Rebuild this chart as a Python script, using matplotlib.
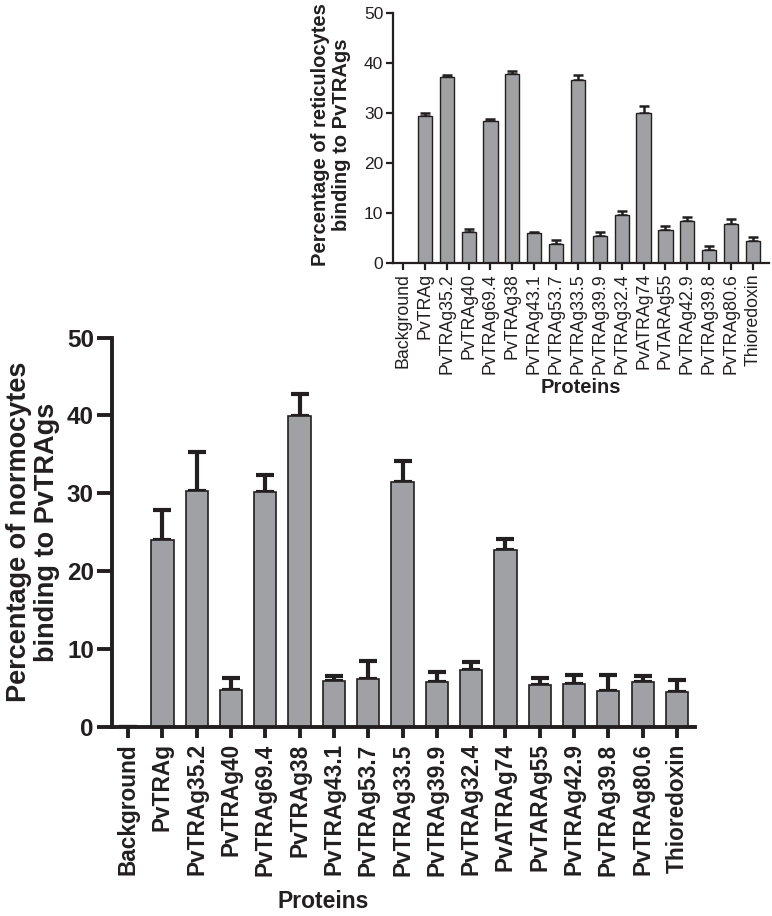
import numpy as np
from matplotlib import pyplot as plt

plt.rcParams['font.family'] = ['Liberation Sans', 'DejaVu Sans']

proteins = ["Background", "PvTRAg", "PvTRAg35.2", "PvTRAg40", "PvTRAg69.4", "PvTRAg38",
            "PvTRAg43.1", "PvTRAg53.7", "PvTRAg33.5", "PvTRAg39.9", "PvTRAg32.4",
            "PvATRAg74", "PvTARAg55", "PvTRAg42.9", "PvTRAg39.8", "PvTRAg80.6", "Thioredoxin"]

# normocytes (main panel)
norm_mean = [0, 24.0, 30.3, 4.7, 30.1, 39.9, 5.9, 6.1, 31.4, 5.8, 7.3, 22.7, 5.3, 5.5, 4.6, 5.7, 4.4]
norm_err = [0, 3.8, 5.0, 1.6, 2.3, 2.8, 0.6, 2.4, 2.8, 1.2, 1.0, 1.4, 1.0, 1.2, 2.0, 0.8, 1.6]

# reticulocytes (inset)
ret_mean = [0, 29.3, 37.1, 6.2, 28.3, 37.8, 6.0, 3.9, 36.6, 5.4, 9.7, 29.9, 6.7, 8.5, 2.7, 7.8, 4.5]
ret_err = [0, 0.6, 0.5, 0.7, 0.5, 0.6, 0.3, 0.8, 1.0, 0.9, 0.8, 1.4, 0.7, 0.7, 0.8, 1.0, 0.8]

dark = "#231f20"
bar_col = "#a0a1a5"

fig = plt.figure(figsize=(7.72, 9.16), dpi=100)
x = np.arange(len(proteins))

# main panel
ax = fig.add_axes([0.145, 0.2067, 0.755, 0.4247])
ax.bar(x, norm_mean, width=0.65, color=bar_col, edgecolor=dark, linewidth=1.2, zorder=2)
ax.errorbar(x, norm_mean, yerr=[np.zeros(len(x)), norm_err], fmt='none', ecolor=dark,
            elinewidth=3, capsize=6.5, capthick=3, zorder=1)
ax.set_xlim(-0.47, 16.52)
ax.set_ylim(0, 50)
ax.set_yticks([0, 10, 20, 30, 40, 50])
ax.set_xticks(x)
ax.set_xticklabels(proteins, rotation=90, fontsize=16.3, fontweight='bold', color=dark)
for lab in ax.get_yticklabels():
    lab.set_fontsize(17.5)
    lab.set_fontweight('bold')
    lab.set_color(dark)
for s in ['top', 'right']:
    ax.spines[s].set_visible(False)
for s in ['left', 'bottom']:
    ax.spines[s].set_linewidth(2.8)
    ax.spines[s].set_color(dark)
ax.tick_params(axis='y', length=11, width=2.8, color=dark, pad=2)
ax.tick_params(axis='x', length=8, width=2.8, color=dark, pad=4)
fig.text(323 / 772, 1 - 902 / 916, "Proteins", fontsize=16.5, fontweight='bold', color=dark,
         ha='center', va='center')
fig.text(33 / 772, 1 - 532 / 916, "Percentage of normocytes\nbinding to PvTRAgs", rotation=90,
         fontsize=19.5, fontweight='bold', color=dark, ha='center', va='center',
         multialignment='center', linespacing=1.1)

# inset
ax2 = fig.add_axes([0.509, 0.7126, 0.487, 0.2736])
ax2.bar(x, ret_mean, width=0.65, color=bar_col, edgecolor=dark, linewidth=1.0, zorder=2)
ax2.errorbar(x, ret_mean, yerr=[np.zeros(len(x)), ret_err], fmt='none', ecolor=dark,
             elinewidth=1.8, capsize=3.5, capthick=1.8, zorder=1)
ax2.set_xlim(-0.46, 16.73)
ax2.set_ylim(0, 50)
ax2.set_yticks([0, 10, 20, 30, 40, 50])
ax2.set_xticks(x)
ax2.set_xticklabels(proteins, rotation=90, fontsize=12.8, color=dark)
for lab in ax2.get_yticklabels():
    lab.set_fontsize(12.5)
    lab.set_color(dark)
for s in ['top', 'right']:
    ax2.spines[s].set_visible(False)
for s in ['left', 'bottom']:
    ax2.spines[s].set_linewidth(1.6)
    ax2.spines[s].set_color(dark)
ax2.tick_params(axis='both', length=5, width=1.6, color=dark, pad=2)
ax2.set_xlabel("Proteins", fontsize=14.5, fontweight='bold', color=dark, labelpad=3)
fig.text(331 / 772, 1 - 135 / 916, "Percentage of reticulocytes\nbinding to PvTRAgs", rotation=90,
         fontsize=14.5, fontweight='bold', color=dark, ha='center', va='center',
         multialignment='center', linespacing=1.15)

plt.savefig("out.png", dpi=100)
plt.close()
